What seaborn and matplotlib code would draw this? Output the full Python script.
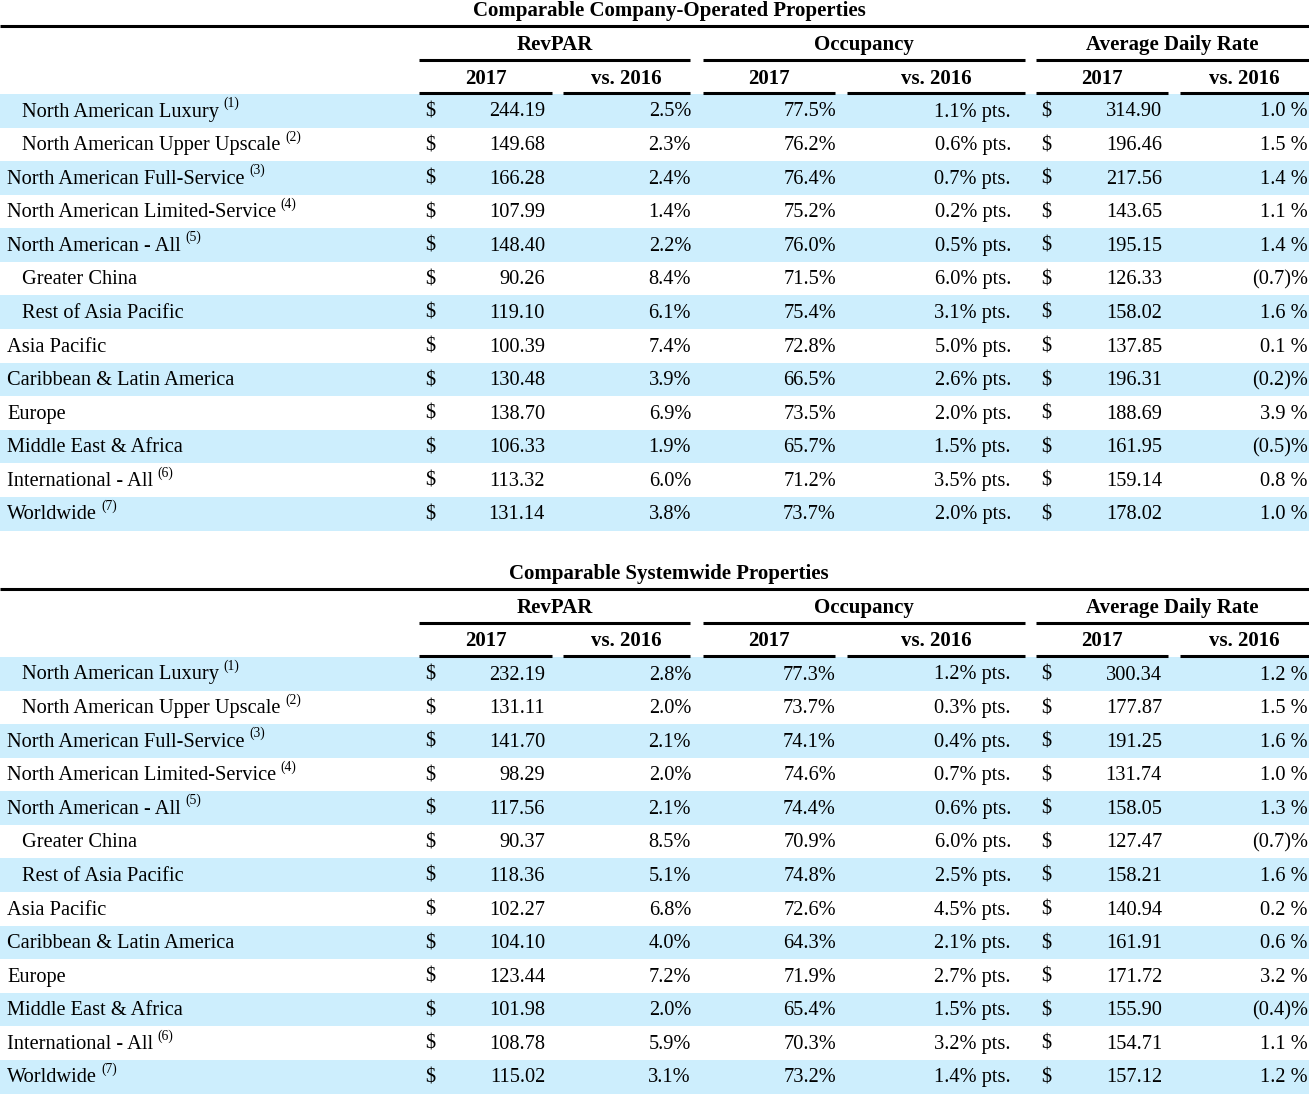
import matplotlib
matplotlib.use("Agg")
import matplotlib.pyplot as plt
import seaborn as sns

sns.set_theme(style="white")
plt.rcParams["font.family"] = ["Liberation Serif", "DejaVu Serif"]
plt.rcParams["text.color"] = "black"

# ---------------- data ----------------
labels = ["North American Luxury", "North American Upper Upscale", "North American Full-Service",
          "North American Limited-Service", "North American - All", "Greater China",
          "Rest of Asia Pacific", "Asia Pacific", "Caribbean & Latin America", "Europe",
          "Middle East & Africa", "International - All", "Worldwide"]
indented = [True, True, False, False, False, True, True, False, False, False, False, False, False]
footnotes = ["1", "2", "3", "4", "5", "", "", "", "", "", "", "6", "7"]

titles = ["Comparable Company-Operated Properties", "Comparable Systemwide Properties"]
groups = ["RevPAR", "Occupancy", "Average Daily Rate"]
subheads = ["2017", "vs. 2016"]

# Company-operated
co_revpar = [244.19, 149.68, 166.28, 107.99, 148.40, 90.26, 119.10, 100.39, 130.48, 138.70, 106.33, 113.32, 131.14]
co_revpar_chg = [2.5, 2.3, 2.4, 1.4, 2.2, 8.4, 6.1, 7.4, 3.9, 6.9, 1.9, 6.0, 3.8]
co_occ = [77.5, 76.2, 76.4, 75.2, 76.0, 71.5, 75.4, 72.8, 66.5, 73.5, 65.7, 71.2, 73.7]
co_occ_chg = [1.1, 0.6, 0.7, 0.2, 0.5, 6.0, 3.1, 5.0, 2.6, 2.0, 1.5, 3.5, 2.0]
co_adr = [314.90, 196.46, 217.56, 143.65, 195.15, 126.33, 158.02, 137.85, 196.31, 188.69, 161.95, 159.14, 178.02]
co_adr_chg = [1.0, 1.5, 1.4, 1.1, 1.4, -0.7, 1.6, 0.1, -0.2, 3.9, -0.5, 0.8, 1.0]

# Systemwide
sw_revpar = [232.19, 131.11, 141.70, 98.29, 117.56, 90.37, 118.36, 102.27, 104.10, 123.44, 101.98, 108.78, 115.02]
sw_revpar_chg = [2.8, 2.0, 2.1, 2.0, 2.1, 8.5, 5.1, 6.8, 4.0, 7.2, 2.0, 5.9, 3.1]
sw_occ = [77.3, 73.7, 74.1, 74.6, 74.4, 70.9, 74.8, 72.6, 64.3, 71.9, 65.4, 70.3, 73.2]
sw_occ_chg = [1.2, 0.3, 0.4, 0.7, 0.6, 6.0, 2.5, 4.5, 2.1, 2.7, 1.5, 3.2, 1.4]
sw_adr = [300.34, 177.87, 191.25, 131.74, 158.05, 127.47, 158.21, 140.94, 161.91, 171.72, 155.90, 154.71, 157.12]
sw_adr_chg = [1.2, 1.5, 1.6, 1.0, 1.3, -0.7, 1.6, 0.2, 0.6, 3.2, -0.4, 1.1, 1.2]

tables = [
    (co_revpar, co_revpar_chg, co_occ, co_occ_chg, co_adr, co_adr_chg),
    (sw_revpar, sw_revpar_chg, sw_occ, sw_occ_chg, sw_adr, sw_adr_chg),
]

# ---------------- layout ----------------
W, H = 1309, 1094
fig = plt.figure(figsize=(W / 100, H / 100), dpi=100)
ax = fig.add_axes([0, 0, 1, 1])
ax.set_xlim(0, W)
ax.set_ylim(H, 0)
ax.axis("off")

FS = 14.7
HFS = 15
BAND = "#cdeefd"
ROW_H = 33.58
group_spans = [(419, 690), (703, 1025), (1036, 1309)]
sub_spans = [(419, 552), (563, 690), (703, 835), (847, 1025), (1036, 1168), (1180, 1309)]


def fmt_adr_chg(v):
    if v < 0:
        return f"({abs(v):.1f})%"
    return f"{v:.1f} %"


renderer = fig.canvas.get_renderer()
inv = ax.transData.inverted()
kw = dict(va="baseline", fontsize=FS)

for t, (rev, rev_c, occ, occ_c, adr, adr_c) in enumerate(tables):
    off = 0 if t == 0 else 563
    ax.text(669, 16 + off, titles[t], ha="center", va="baseline", fontsize=HFS, fontweight="bold")
    ax.plot([0, W], [26 + off, 26 + off], color="black", lw=2.2, solid_capstyle="butt")
    for (x0, x1), g in zip(group_spans, groups):
        ax.text((x0 + x1) / 2, 50 + off, g, ha="center", va="baseline", fontsize=HFS, fontweight="bold")
        ax.plot([x0, x1], [59.5 + off, 59.5 + off], color="black", lw=2.2, solid_capstyle="butt")
    for k, (x0, x1) in enumerate(sub_spans):
        ax.text((x0 + x1) / 2, 83.5 + off, subheads[k % 2], ha="center", va="baseline", fontsize=HFS,
                fontweight="bold")
        ax.plot([x0, x1], [92.8 + off, 92.8 + off], color="black", lw=2.2, solid_capstyle="butt")

    top = 94 + off
    for i in range(len(labels)):
        y0 = top + i * ROW_H
        yb = y0 + 22.5
        if i % 2 == 0:
            ax.axhspan(y0, y0 + ROW_H, color=BAND, lw=0, zorder=0)
        lx = 22 if indented[i] else 7
        txt = ax.text(lx, yb, labels[i], ha="left", **kw)
        if footnotes[i]:
            bb = txt.get_window_extent(renderer=renderer)
            xr = inv.transform((bb.x1, bb.y0))[0]
            ax.text(xr + 4.5, y0 + 13, f"({footnotes[i]})", ha="left", va="baseline", fontsize=9.8)
        ax.text(425, yb, "$", ha="left", **kw)
        ax.text(545, yb, f"{rev[i]:.2f}", ha="right", **kw)
        ax.text(691, yb, f"{rev_c[i]:.1f}%", ha="right", **kw)
        ax.text(836, yb, f"{occ[i]:.1f}%", ha="right", **kw)
        ax.text(1011, yb, f"{occ_c[i]:.1f}% pts.", ha="right", **kw)
        ax.text(1041, yb, "$", ha="left", **kw)
        ax.text(1162, yb, f"{adr[i]:.2f}", ha="right", **kw)
        ax.text(1308, yb, fmt_adr_chg(adr_c[i]), ha="right", **kw)

fig.savefig("out.png", dpi=100)
